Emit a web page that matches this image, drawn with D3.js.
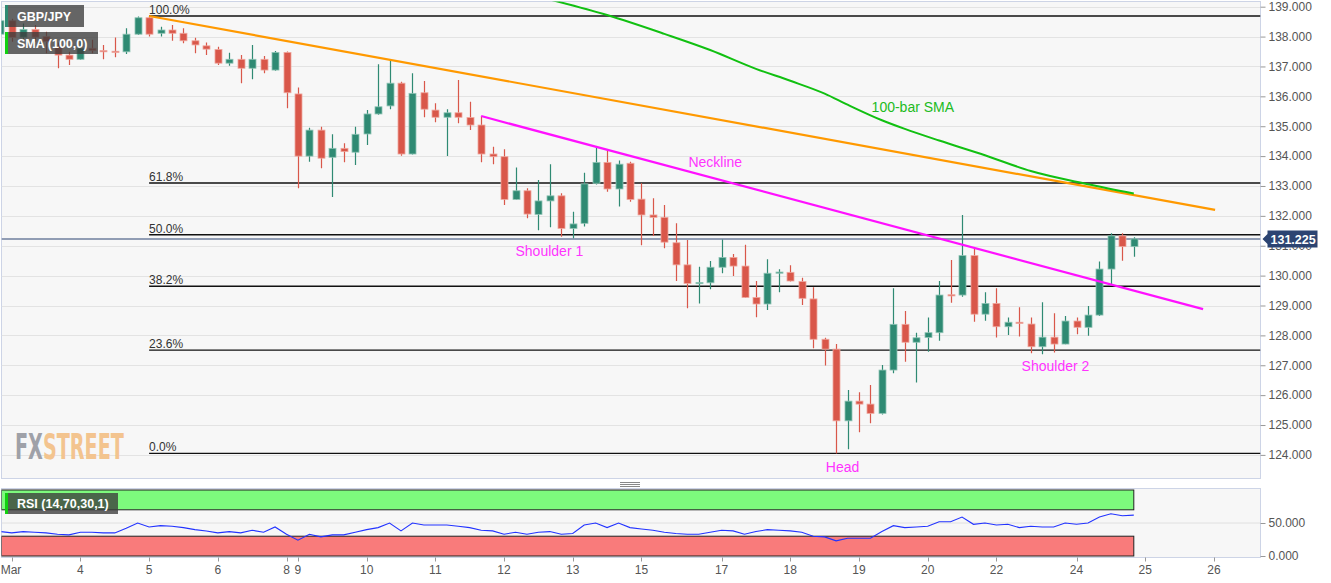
<!DOCTYPE html>
<html><head><meta charset="utf-8">
<script src="https://cdn.jsdelivr.net/npm/d3@7"></script>
<style>
body{margin:0;background:#fff;}
svg{display:block;font-family:"Liberation Sans",Arial,sans-serif;}
</style>
</head><body>
<svg id="c" width="1331" height="583"></svg>
<script>
// ---- DATA (4H bars, GBP/JPY, bar index -1 .. 98) ----
const opens  = [138.08,138.53,137.98,138.24,138.00,137.66,137.38,137.24,137.61,137.53,137.51,137.49,138.08,138.63,138.11,138.22,138.11,137.86,137.69,137.57,137.11,137.24,136.94,137.24,136.88,137.47,136.08,134.00,134.87,133.96,134.26,134.13,134.74,135.41,135.68,136.44,134.07,136.12,135.54,135.30,135.45,135.29,135.04,134.07,133.98,132.55,132.84,132.05,132.50,132.67,131.58,131.75,133.09,133.79,132.90,133.76,132.56,132.03,131.95,131.10,130.36,129.74,129.76,130.28,130.61,130.32,129.27,129.05,130.08,130.11,129.80,129.22,127.87,127.54,125.14,125.80,125.70,125.39,126.84,128.37,127.77,127.93,128.09,129.36,129.35,130.67,128.71,129.07,128.29,128.44,128.38,127.62,127.94,127.71,128.48,128.27,128.68,130.22,131.33,130.97];
const highs  = [138.60,138.60,138.44,138.39,138.16,137.80,137.49,137.89,137.89,137.72,137.97,138.28,138.67,138.69,138.33,138.39,138.28,137.96,137.80,137.66,137.46,137.38,137.72,137.35,137.52,137.50,136.30,134.95,134.98,134.73,134.43,134.98,135.54,137.07,137.24,136.49,136.77,136.51,135.77,135.57,136.55,135.82,135.34,134.31,134.23,133.62,132.92,133.20,133.73,132.76,132.14,133.44,134.31,134.20,133.85,133.81,133.09,132.59,132.36,131.75,131.19,130.30,130.49,131.21,130.72,131.03,129.82,130.55,130.21,130.35,129.93,129.61,127.92,127.71,126.17,126.10,126.34,127.01,129.58,128.82,128.09,128.60,129.82,130.52,132.03,130.92,129.44,129.58,128.60,128.94,128.60,129.11,128.74,128.65,128.60,128.98,130.47,131.42,131.42,131.28];
const lows   = [138.00,137.83,137.90,137.83,137.44,136.94,137.05,137.22,137.44,137.24,137.31,137.42,138.05,138.00,138.00,137.86,137.78,137.44,137.38,137.05,137.02,136.44,136.57,136.77,136.86,135.60,132.92,133.81,133.59,132.63,133.79,133.70,134.37,135.38,135.57,134.01,134.05,135.30,135.13,134.00,135.10,134.87,133.79,133.73,132.36,132.53,131.92,131.52,131.62,131.30,131.25,131.64,133.05,132.81,132.31,132.47,131.02,131.33,130.92,129.82,128.91,129.07,129.54,130.08,129.99,129.25,128.61,128.85,129.44,129.80,129.02,127.57,126.99,124.05,124.19,124.76,125.06,125.35,126.73,127.12,126.42,127.45,127.82,129.09,129.29,128.46,128.49,127.93,128.01,127.96,127.40,127.37,127.43,127.70,128.04,127.99,128.65,129.69,130.50,130.63];
const closes = [138.53,137.97,138.24,137.98,137.83,137.38,137.24,137.61,137.53,137.51,137.49,138.08,138.63,138.08,138.22,138.11,137.86,137.72,137.58,137.11,137.24,136.94,137.24,136.88,137.47,136.12,134.00,134.87,133.93,134.26,134.15,134.73,135.41,135.65,136.44,134.07,136.10,135.57,135.30,135.45,135.30,135.04,134.07,133.98,132.55,132.84,132.06,132.50,132.67,131.58,131.73,133.07,133.79,132.90,133.73,132.55,132.03,131.95,131.12,130.36,129.74,129.77,130.28,130.61,130.32,129.27,129.05,130.08,130.12,129.82,129.24,127.87,127.54,125.14,125.80,125.70,125.39,126.84,128.37,127.77,127.92,128.09,129.35,129.33,130.67,128.71,129.07,128.29,128.44,128.40,127.62,127.94,127.71,128.48,128.27,128.68,130.22,131.33,130.97,131.23];
const rsiValues = [37,35,37,36,35,33,32,36,36,35,35,42,50,44,46,45,43,40,38,35,37,35,39,36,44,33,24,33,29,32,32,36,40,43,50,38,50,47,47,47,45,43,39,38,33,36,33,36,37,33,34,47,50,43,50,43,41,39,36,34,33,33,36,39,38,33,37,40,39,38,36,30,29,23,27,27,27,37,46,43,44,45,52,52,59,48,50,47,48,43,45,44,44,50,48,50,59,64,61,62];
const firstBar = -1;

const dayLabels = ["Mar","4","5","6","8","9","10","11","12","13","15","17","18","19","20","22","24","25","26"];
const dayBars   = [0,6,12,18,24,25,31,37,43,49,55,62,68,74,80,86,93,99,105];

const priceTicks = [124,125,126,127,128,129,130,131,132,133,134,135,136,137,138,139];
const rsiTicks = [0,50];

const fibLabels = ["0.0%","23.6%","38.2%","50.0%","61.8%","100.0%"];
const fibRatios = [0,0.236,0.382,0.5,0.618,1];
const fibHigh = 138.69, fibLow = 124.05, fibStartBar = 12;

const smaBars   = [47,52,57,61,65,68,71,73,76,78,81,85,89,94,98];
const smaValues = [139.24,138.72,138.09,137.55,136.92,136.52,136.09,135.72,135.20,134.91,134.52,134.03,133.50,133.06,132.75];

const resistanceBars = [12,105.1], resistanceValues = [138.69,132.20];
const necklineBars = [41,104.05], necklineValues = [135.34,128.88];

const lastPrice = 131.225;

const annotations = [
  {text:"Neckline", bar:59.1, price:133.64, color:"#ff33ff"},
  {text:"100-bar SMA", bar:75.1, price:135.48, color:"#22bb22"},
  {text:"Shoulder 1", bar:44.0, price:130.66, color:"#ff33ff"},
  {text:"Head", bar:71.1, price:123.43, color:"#ff33ff"},
  {text:"Shoulder 2", bar:88.2, price:126.81, color:"#ff33ff"}
];

// ---- LAYOUT ----
const svg = d3.select("#c");
const P = {l:1.5, r:1260.5, t:1.5, b:478.5};
const R = {t:488.5, b:557.5};
const x = d3.scaleLinear().domain([0,100]).range([11.7, 11.7+1145]);
const y = d3.scaleLinear().domain([124,139]).range([454.9, 6.7]);
const yr = d3.scaleLinear().domain([0,100]).range([556, 490]);

const bars = d3.range(opens.length).map(k => ({
  i: firstBar + k, o: opens[k], h: highs[k], l: lows[k], c: closes[k], r: rsiValues[k]
}));

const defs = svg.append("defs");
defs.append("clipPath").attr("id","mainClip").append("rect")
  .attr("x",P.l).attr("y",P.t).attr("width",P.r-P.l).attr("height",P.b-P.t);
defs.append("clipPath").attr("id","rsiClip").append("rect")
  .attr("x",P.l).attr("y",R.t).attr("width",P.r-P.l).attr("height",R.b-R.t);

// panels
svg.append("rect").attr("x",P.l).attr("y",P.t).attr("width",P.r-P.l).attr("height",P.b-P.t)
  .attr("fill","#f7f7f7").attr("stroke","#cdd4e6");
svg.append("rect").attr("x",P.l).attr("y",R.t).attr("width",P.r-P.l).attr("height",R.b-R.t)
  .attr("fill","#f7f7f7").attr("stroke","#cdd4e6");

const main = svg.append("g").attr("clip-path","url(#mainClip)");

// grid
main.selectAll("line.grid").data(priceTicks).join("line")
  .attr("x1",P.l).attr("x2",P.r).attr("y1",d=>Math.round(y(d))+0.5).attr("y2",d=>Math.round(y(d))+0.5)
  .attr("stroke","#e3e3e3").attr("stroke-width",1);

// logo (watermark, behind marks)
const logo = svg.append("text").attr("font-family","'Liberation Sans Narrow','DejaVu Sans Condensed',sans-serif")
  .attr("font-weight","bold").attr("font-size",35);
logo.append("tspan").attr("fill","#9fa1a8").text("FX");
logo.append("tspan").attr("fill","#f3c48f").text("STREET");
{
  const w = logo.node().getComputedTextLength();
  const s = 109 / w;
  logo.attr("transform",`translate(15,459) scale(${s},1)`);
}

// fib levels
const fib = fibRatios.map((r,k)=>({r, label:fibLabels[k], p: fibLow + r*(fibHigh-fibLow)}));
main.selectAll("line.fib").data(fib).join("line")
  .attr("x1",x(fibStartBar)).attr("x2",P.r)
  .attr("y1",d=>y(d.p)).attr("y2",d=>y(d.p))
  .attr("stroke","#111").attr("stroke-width",1.4);
main.selectAll("text.fib").data(fib).join("text")
  .attr("x",x(fibStartBar)).attr("y",d=>y(d.p)-2)
  .attr("font-size",12).attr("fill","#333").text(d=>d.label);

// last price line
main.append("line").attr("x1",P.l).attr("x2",P.r)
  .attr("y1",y(lastPrice)).attr("y2",y(lastPrice)).attr("stroke","#2c4472").attr("stroke-width",1.2);

// candles
const GREEN="#2f8a73", RED="#d9574a", GREEN_B="#8fc4b5", RED_B="#efa79e";
const cg = main.append("g");
const cs = cg.selectAll("g.c").data(bars).join("g");
cs.append("line")
  .attr("x1",d=>Math.round(x(d.i))+0.5).attr("x2",d=>Math.round(x(d.i))+0.5)
  .attr("y1",d=>y(d.h)).attr("y2",d=>y(d.l))
  .attr("stroke",d=>d.c>=d.o?GREEN:RED).attr("stroke-width",1.2);
cs.append("rect")
  .attr("x",d=>Math.round(x(d.i))-3).attr("width",7)
  .attr("y",d=>y(Math.max(d.o,d.c)))
  .attr("height",d=>Math.max(1.2, Math.abs(y(d.o)-y(d.c))))
  .attr("fill",d=>d.c>=d.o?GREEN:RED)
  .attr("stroke",d=>d.c>=d.o?GREEN_B:RED_B).attr("stroke-width",0.8);

// trend lines
const line = d3.line().x(d=>x(d[0])).y(d=>y(d[1]));
main.append("path").datum(resistanceBars.map((b,k)=>[b,resistanceValues[k]]))
  .attr("d",line).attr("stroke","#ff9900").attr("stroke-width",2.2).attr("fill","none");
main.append("path").datum(necklineBars.map((b,k)=>[b,necklineValues[k]]))
  .attr("d",line).attr("stroke","#ff11ff").attr("stroke-width",2.2).attr("fill","none");
main.append("path").datum(smaBars.map((b,k)=>[b,smaValues[k]]))
  .attr("d",line.curve(d3.curveMonotoneX)).attr("stroke","#11c011").attr("stroke-width",2).attr("fill","none");

// annotations
main.selectAll("text.ann").data(annotations).join("text")
  .attr("x",d=>x(d.bar)).attr("y",d=>y(d.price))
  .attr("font-size",14).attr("fill",d=>d.color).text(d=>d.text);

// legends
function legend(x0,y0,w,h,accent,label){
  const g = svg.append("g");
  g.append("rect").attr("x",x0+2).attr("y",y0).attr("width",w).attr("height",h)
    .attr("fill","#3c3c3c").attr("fill-opacity",0.78);
  g.append("rect").attr("x",x0).attr("y",y0).attr("width",3).attr("height",h).attr("fill",accent);
  g.append("text").attr("x",x0+12).attr("y",y0+h/2+4.5).attr("fill","#fff")
    .attr("font-size",12.5).attr("font-weight","bold").text(label);
}
legend(5,5,77,22,"#2f8a73","GBP/JPY");
legend(5,32,91,22,"#11d011","SMA (100,0)");

// right axis
const ax = svg.append("g").attr("transform",`translate(${P.r},0)`)
  .call(d3.axisRight(y).tickValues(priceTicks).tickFormat(d3.format(".3f")).tickSize(5).tickPadding(3));
ax.select(".domain").remove();
ax.selectAll("line").attr("stroke","#999");
ax.selectAll("text").attr("fill","#555").attr("font-size",12).attr("font-family","'Liberation Sans',Arial,sans-serif");

// last price label (covers the 131.000 tick label as in the reference)
const lp = svg.append("g").attr("transform",`translate(${P.r+2},${y(lastPrice)})`);
lp.append("path").attr("d","M0,0 L5,-5 L5,-8.5 L55,-8.5 L55,8.5 L5,8.5 L5,5 Z").attr("fill","#2c4472");
lp.append("text").attr("x",8).attr("y",4.5).attr("fill","#fff").attr("font-size",12.5)
  .attr("font-weight","bold").text(d3.format(".3f")(lastPrice));

// separator handle
svg.append("g").selectAll("line").data([482.5,484.5,486.5]).join("line")
  .attr("x1",620).attr("x2",640).attr("y1",d=>d).attr("y2",d=>d).attr("stroke","#888");

// RSI panel
const rg = svg.append("g").attr("clip-path","url(#rsiClip)");
const lastX = x(bars[bars.length-1].i);
rg.append("line").attr("x1",P.l).attr("x2",P.r).attr("y1",yr(50)).attr("y2",yr(50)).attr("stroke","#e0e0e0");
rg.append("rect").attr("x",P.l).attr("y",yr(100)).attr("width",lastX-P.l).attr("height",yr(70)-yr(100))
  .attr("fill","#7dfa7d").attr("stroke","#222").attr("stroke-width",1);
rg.append("rect").attr("x",P.l).attr("y",yr(30)).attr("width",lastX-P.l).attr("height",yr(0)-yr(30))
  .attr("fill","#f97b7b").attr("stroke","#222").attr("stroke-width",1);
rg.append("path").datum(bars)
  .attr("d",d3.line().x(d=>x(d.i)).y(d=>yr(d.r)))
  .attr("fill","none").attr("stroke","#2233ff").attr("stroke-width",1.1);
legend(5,493,111,21,"#11d011","RSI (14,70,30,1)");

const ra = svg.append("g").attr("transform",`translate(${P.r},0)`)
  .call(d3.axisRight(yr).tickValues(rsiTicks).tickFormat(d3.format(".3f")).tickSize(5).tickPadding(3));
ra.select(".domain").remove();
ra.selectAll("line").attr("stroke","#999");
ra.selectAll("text").attr("fill","#555").attr("font-size",12);

// x axis (day ticks)
const xa = svg.append("g");
xa.selectAll("line").data(dayBars).join("line")
  .attr("x1",d=>Math.round(x(d))+0.5).attr("x2",d=>Math.round(x(d))+0.5)
  .attr("y1",R.b).attr("y2",R.b+4).attr("stroke","#999");
xa.selectAll("text").data(dayLabels).join("text")
  .attr("x",(d,k)=>x(dayBars[k])).attr("y",574)
  .attr("text-anchor",(d,k)=>k===0?"start":"middle")
  .attr("dx",(d,k)=>k===0?-11:0)
  .attr("font-size",12).attr("fill","#555").text(d=>d);
</script>
</body></html>
